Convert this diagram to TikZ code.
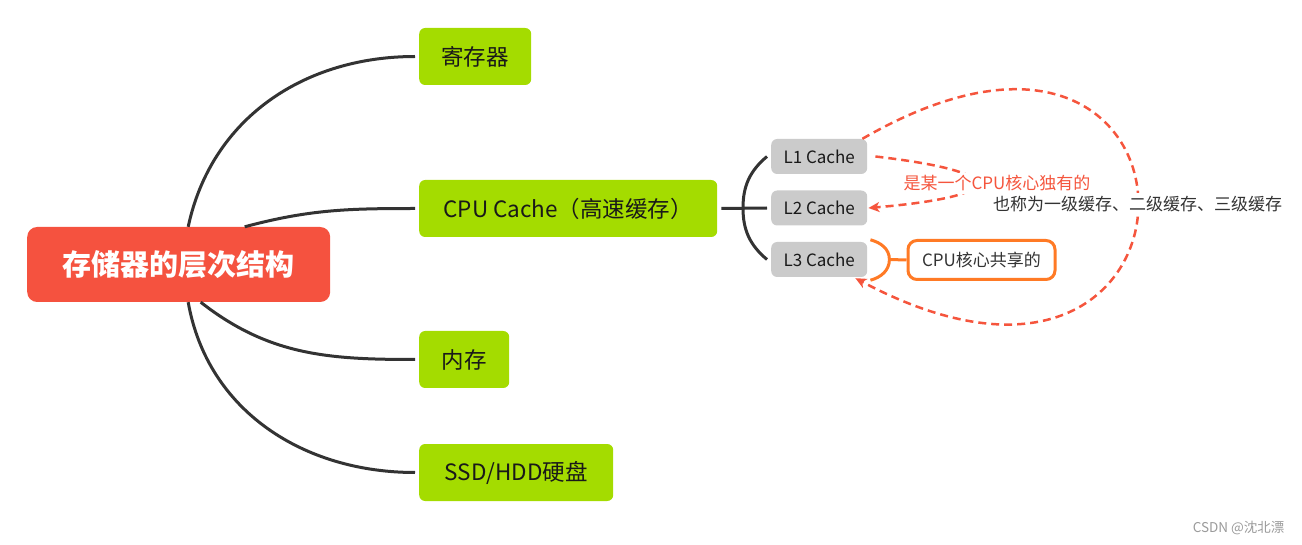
\documentclass[tikz,border=0pt]{standalone}
\usepackage{fontspec}
\setmainfont{Noto Sans CJK SC}
\usepackage{xcolor}
\usepackage{tikz}
\usetikzlibrary{arrows.meta}

\definecolor{rootred}{HTML}{F5523F}
\definecolor{leafgreen}{HTML}{A4DC00}
\definecolor{cachegray}{HTML}{CBCBCB}
\definecolor{noteorange}{HTML}{FF7A25}
\definecolor{dashred}{HTML}{F5553D}
\definecolor{linegray}{HTML}{333333}
\definecolor{markgray}{HTML}{9A9A9A}

\begin{document}
\begin{tikzpicture}[x=1pt, y=1pt,
    rootbox/.style={fill=rootred, rounded corners=10pt, text=white,
      font=\fontsize{29}{34}\selectfont\bfseries,
      minimum width=303pt, minimum height=75pt, anchor=west},
    levelbox/.style={fill=leafgreen, rounded corners=6pt, text=black!90,
      font=\fontsize{22.5}{27}\selectfont, minimum height=57pt, anchor=west},
    cachebox/.style={fill=cachegray, rounded corners=6pt, text=black!90,
      font=\fontsize{17}{20}\selectfont,
      minimum width=96pt, minimum height=35pt, anchor=west},
    notebox/.style={draw=noteorange, line width=3pt, rounded corners=9pt,
      fill=white, text=linegray, font=\fontsize{17}{20}\selectfont,
      minimum width=147pt, minimum height=39pt, anchor=west},
    branch/.style={draw=linegray, line width=3pt},
    orangeline/.style={draw=noteorange, line width=3pt},
    hint/.style={draw=dashred, line width=2.5pt, dash pattern=on 8pt off 5pt,
      -{Stealth[length=11pt,width=10pt,inset=3pt]}},
    hinttext/.style={fill=white, inner sep=3pt, font=\fontsize{17}{20}\selectfont}]

    \useasboundingbox (0,0) rectangle (1302,-545);

    % root and first level
    \node[rootbox] (root) at (27,-264.5) {存储器的层次结构};
    \node[levelbox, minimum width=112pt] (reg) at (419,-56.5) {寄存器};
    \node[levelbox, minimum width=298pt] (cpu) at (419,-208.5) {CPU Cache（高速缓存）};
    \node[levelbox, minimum width=90pt] (mem) at (419,-359.5) {内存};
    \node[levelbox, minimum width=194pt] (disk) at (419,-472.5) {SSD/HDD硬盘};

    \draw[branch] ([xshift=9.5pt]root.north) to[out=78,in=180] ([xshift=-4pt]reg.west);
    \draw[branch] ([xshift=66pt]root.north) to[out=15,in=180] ([xshift=-4pt]cpu.west);
    \draw[branch] ([xshift=22pt]root.south) to[out=-38,in=180] ([xshift=-4pt]mem.west);
    \draw[branch] ([xshift=9.5pt]root.south) to[out=-80,in=180] ([xshift=-4pt]disk.west);

    % cache levels
    \node[cachebox] (l1) at (771,-156.5) {L1 Cache};
    \node[cachebox] (l2) at (771,-208) {L2 Cache};
    \node[cachebox] (l3) at (771,-259.5) {L3 Cache};

    \coordinate (hub) at ([xshift=-28pt]l2.west);
    \draw[branch] ([xshift=-4pt]l1.west) to[out=220,in=90] (hub)
      to[out=-90,in=140] ([xshift=-4pt]l3.west);
    \draw[branch] ([xshift=4pt]cpu.east) -- ([xshift=-4pt]l2.west);

    % shared note
    \node[notebox] (shared) at (906.5,-260) {CPU核心共享的};
    \coordinate (knot) at ([xshift=22pt]l3.east);
    \draw[orangeline] ([xshift=3pt,yshift=2pt]l3.north east) to[out=-15,in=90] (knot)
      to[out=-90,in=15] ([xshift=3pt,yshift=-3pt]l3.south east);
    \draw[orangeline] (knot) -- (shared.west);

    % dashed hints
    \draw[hint] ([xshift=-5pt]l1.north east) .. controls +(30:425) and +(-28:425)
      .. ([xshift=-12pt,yshift=-1pt]l3.south east)
      node[hinttext, text=linegray, pos=0.5] (alias) {也称为一级缓存、二级缓存、三级缓存};
    \draw[hint] ([xshift=8pt]l1.east) .. controls (1010,-172) and (1010,-196)
      .. ([xshift=1pt]l2.east);
    \node[hinttext, text=dashred] (own) at (997,-183.5) {是某一个CPU核心独有的};

    \node[font=\fontsize{13.5}{16}\selectfont, text=markgray, anchor=east] (mark)
      at (1288,-528) {CSDN @沈北漂};
  \end{tikzpicture}
\end{document}
